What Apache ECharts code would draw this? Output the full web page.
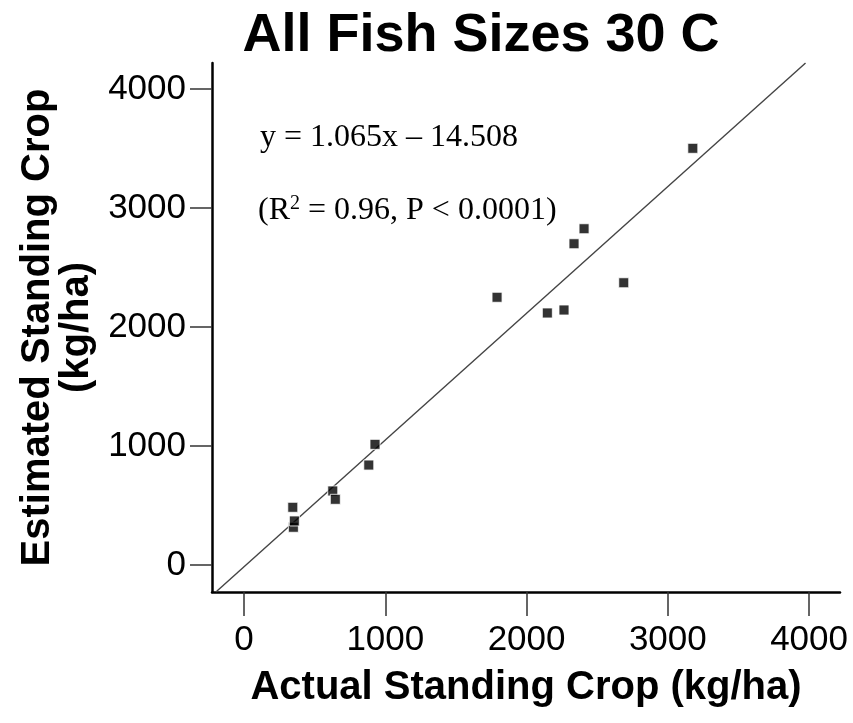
<!DOCTYPE html>
<html>
<head>
<meta charset="utf-8">
<script src="https://cdn.jsdelivr.net/npm/echarts@6/dist/echarts.min.js"></script>
<style>
  html, body { margin: 0; padding: 0; background: #fff; }
  #chart { width: 853px; height: 723px; }
</style>
</head>
<body>
<div id="chart"></div>
<script>
// actual vs estimated standing crop (kg/ha)
const actual = [345, 349, 356, 628, 646, 883, 927, 1791, 2147, 2265, 2336, 2407, 2688, 3177]
const estimated = [485, 317, 370, 622, 552, 840, 1014, 2250, 2118, 2143, 2700, 2826, 2372, 3502]
const tickValues = [0, 1000, 2000, 3000, 4000]

// fitted line from the equation on the chart
const slope = 1.065
const intercept = -14.508
const axisMin = -227
const axisMax = 4219

const points = actual.map((x, i) => [x, estimated[i]])
const fitLine = [
  [(axisMin - intercept) / slope, axisMin],
  [(axisMax - intercept) / slope, axisMax]
]

const sans = 'Liberation Sans, Arial, sans-serif'
const serif = 'Liberation Serif, Times New Roman, serif'

const myChart = echarts.init(document.getElementById('chart'))
myChart.setOption({
  animation: false,
  title: {
    text: 'All Fish Sizes 30 C',
    left: 476,
    top: 4,
    textAlign: 'center',
    textStyle: { fontFamily: sans, fontSize: 54, fontWeight: 'bold', color: '#000' }
  },
  grid: { left: 212, top: 63, right: 13, bottom: 131 },
  xAxis: {
    type: 'value',
    min: axisMin,
    max: axisMax,
    name: 'Actual Standing Crop (kg/ha)',
    nameLocation: 'middle',
    nameGap: 76,
    nameTextStyle: { fontFamily: sans, fontSize: 40, fontWeight: 'bold', color: '#000' },
    axisLine: { onZero: false, lineStyle: { color: '#000', width: 2.5 } },
    axisTick: { show: true, length: 24, customValues: tickValues, lineStyle: { color: '#333', width: 1.5 } },
    axisLabel: { customValues: tickValues, margin: 31, fontFamily: sans, fontSize: 35, color: '#000', formatter: v => String(v) },
    splitLine: { show: false }
  },
  yAxis: {
    type: 'value',
    min: axisMin,
    max: axisMax,
    name: 'Estimated Standing Crop\n(kg/ha)',
    nameLocation: 'middle',
    nameGap: 104,
    nameTextStyle: { fontFamily: sans, fontSize: 40, fontWeight: 'bold', color: '#000', lineHeight: 39 },
    axisLine: { onZero: false, lineStyle: { color: '#000', width: 2.5 } },
    axisTick: { show: true, length: 22, customValues: tickValues, lineStyle: { color: '#333', width: 1.5 } },
    axisLabel: { customValues: tickValues, margin: 26, fontFamily: sans, fontSize: 35, color: '#000', formatter: v => String(v) },
    splitLine: { show: false }
  },
  graphic: [
    {
      type: 'text',
      left: 260,
      top: 122,
      style: { text: 'y = 1.065x \u2013 14.508', font: '32px ' + serif, fill: '#000' }
    },
    {
      type: 'text',
      left: 258,
      top: 194,
      style: {
        text: '(R{sup|2} = 0.96, P < 0.0001)',
        font: '32px ' + serif,
        fill: '#000',
        rich: { sup: { fontSize: 20, fontFamily: serif, verticalAlign: 'top', padding: [0, 0, 14, 0] } }
      }
    }
  ],
  series: [
    {
      type: 'line',
      data: fitLine,
      symbol: 'none',
      silent: true,
      lineStyle: { color: '#444', width: 1.4 },
      z: 1
    },
    {
      type: 'scatter',
      data: points,
      symbol: 'rect',
      symbolSize: 10,
      itemStyle: { color: '#000', borderColor: '#fff', borderWidth: 1 },
      z: 2
    }
  ]
})
</script>
</body>
</html>
